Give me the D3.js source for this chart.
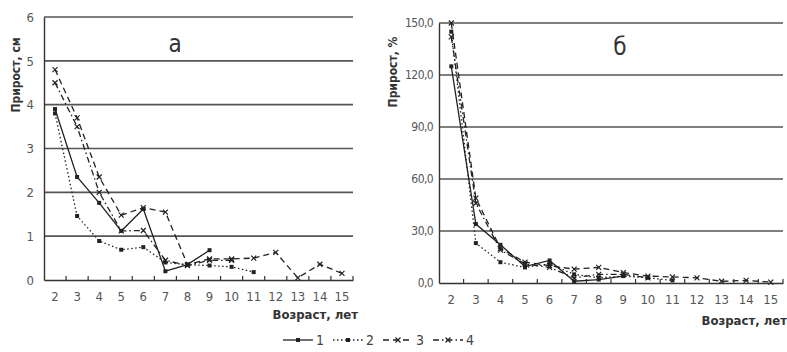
<!DOCTYPE html>
<html><head><meta charset="utf-8">
<script src="https://cdn.jsdelivr.net/npm/d3@7"></script>
<style>
body{margin:0;background:#fff;}
text{font-family:"Liberation Sans Narrow","DejaVu Sans Condensed","Roboto Condensed",sans-serif;fill:#444;}
</style></head><body>
<svg id="c" width="787" height="352"></svg>
<script>
const ages = [2,3,4,5,6,7,8,9,10,11,12,13,14,15];
// Panel а: прирост, см
const a1 = [[2,3.9],[3,2.35],[4,1.76],[5,1.12],[6,1.62],[7,0.2],[8,0.35],[9,0.68]];
const a2 = [[2,3.8],[3,1.46],[4,0.89],[5,0.69],[6,0.75],[7,0.4],[8,0.35],[9,0.33],[10,0.3],[11,0.18]];
const a3 = [[2,4.8],[3,3.7],[4,2.35],[5,1.48],[6,1.65],[7,1.55],[8,0.35],[9,0.48],[10,0.48],[11,0.5],[12,0.63],[13,0.05],[14,0.36],[15,0.15]];
const a4 = [[2,4.5],[3,3.5],[4,2.0],[5,1.12],[6,1.13],[7,0.45],[8,0.33],[9,0.45],[10,0.45]];
// Panel б: прирост, %
const b1 = [[2,125],[3,34],[4,22],[5,9.5],[6,13],[7,1],[8,2],[9,4]];
const b2 = [[2,145],[3,23],[4,12],[5,9],[6,11],[7,5],[8,3],[9,4],[10,3],[11,1.5]];
const b3 = [[2,150],[3,49],[4,20],[5,12],[6,10],[7,8],[8,9],[9,6],[10,4],[11,3.5],[12,3],[13,1],[14,1.5],[15,0.5]];
const b4 = [[2,142],[3,46],[4,19],[5,11],[6,9],[7,3],[8,5],[9,5],[10,3]];
const aTicks = [0,1,2,3,4,5,6];
const bTicks = [0,30,60,90,120,150];
const seriesNames = ["1","2","3","4"];

const svg = d3.select("#c");
const styles = [
  {dash:null, mark:"sq"},
  {dash:"1.5,2.5", mark:"sq"},
  {dash:"6,4", mark:"x"},
  {dash:"6,3,1.5,3", mark:"x"}
];

function drawMarker(g, x, y, m){
  if(m==="sq"){
    g.append("rect").attr("x",x-2).attr("y",y-2).attr("width",4).attr("height",4).attr("fill","#222");
  } else {
    g.append("path").attr("d",`M${x-2.5},${y-2.5}L${x+2.5},${y+2.5}M${x-2.5},${y+2.5}L${x+2.5},${y-2.5}`)
      .attr("stroke","#222").attr("stroke-width",1.2);
  }
}

function panel(o){
  const x = d3.scaleBand().domain(ages).range([o.x0,o.x1]);
  const y = d3.scaleLinear().domain([0,o.max]).range([o.y0,o.y1]);
  const g = svg.append("g");
  // grid
  g.selectAll(".grid").data(o.ticks.filter(t=>t>0)).enter().append("line")
    .attr("x1",o.x0).attr("x2",o.x1).attr("y1",d=>y(d)).attr("y2",d=>y(d))
    .attr("stroke","#555").attr("stroke-width",1.6);
  // y axis
  const ya = g.append("g").attr("transform",`translate(${o.x0},0)`)
    .call(d3.axisLeft(y).tickValues(o.ticks).tickSize(0).tickPadding(o.pad).tickFormat(o.fmt));
  ya.select(".domain").attr("stroke","#333").attr("stroke-width",1.4);
  ya.selectAll("text").attr("font-size",o.yfs).attr("letter-spacing",o.ls).style("fill","#555");
  // x axis
  const xa = g.append("g").attr("transform",`translate(0,${o.y0})`)
    .call(d3.axisBottom(x).tickSize(0).tickPadding(12));
  xa.select(".domain").attr("stroke","#333").attr("stroke-width",1.6);
  xa.selectAll("text").attr("font-size",13).style("fill","#555");
  // inner ticks at band boundaries
  g.selectAll(".bt").data(ages.slice(1).concat([null])).enter().append("line")
    .attr("x1",(d,i)=>o.x0+x.step()*(i+1)).attr("x2",(d,i)=>o.x0+x.step()*(i+1))
    .attr("y1",o.y0).attr("y2",o.y0-4).attr("stroke","#333").attr("stroke-width",1.2);
  // series
  const line = d3.line().x(d=>x(d[0])+x.bandwidth()/2).y(d=>y(d[1]));
  o.series.forEach((s,i)=>{
    const st = styles[i];
    g.append("path").attr("d",line(s)).attr("fill","none").attr("stroke","#222")
      .attr("stroke-width",1.3).attr("stroke-dasharray",st.dash);
    s.forEach(d=>drawMarker(g, x(d[0])+x.bandwidth()/2, y(d[1]), st.mark));
  });
  // titles
  g.append("text").attr("x",o.lx).attr("y",o.ly).attr("font-size",24).attr("text-anchor","middle").text(o.label).style("fill","#333");
  g.append("text").attr("transform",`translate(${o.ytx},${o.yty}) rotate(-90)`).attr("text-anchor","middle")
    .attr("font-size",12).attr("font-weight","bold").style("fill","#333").text(o.ytitle);
  g.append("text").attr("x",o.x1+o.xtdx).attr("y",o.y0+o.xtdy).attr("text-anchor","end")
    .attr("font-size",13).attr("font-weight","bold").style("fill","#333").text("Возраст, лет");
}

panel({x0:44,x1:353,y0:280,y1:17,max:6,ticks:aTicks,fmt:d=>d,pad:10,yfs:13,ls:0,xtdx:5,xtdy:39,
  series:[a1,a2,a3,a4],label:"а",lx:175,ly:52,ytx:20,yty:75,ytitle:"Прирост, см"});
panel({x0:439,x1:783,y0:283,y1:23,max:150,ticks:bTicks,fmt:d=>d3.format(".1f")(d).replace(".",","),pad:6,yfs:12,ls:-0.6,xtdx:4,xtdy:42,
  series:[b1,b2,b3,b4],label:"б",lx:620,ly:55,ytx:397,yty:72,ytitle:"Прирост, %"});

// legend
const lg = svg.append("g");
const lx = [283,333,383,433];
seriesNames.forEach((n,i)=>{
  const st = styles[i];
  const x0 = lx[i];
  lg.append("line").attr("x1",x0).attr("x2",x0+30).attr("y1",340).attr("y2",340)
    .attr("stroke","#222").attr("stroke-width",1.3).attr("stroke-dasharray",st.dash);
  drawMarker(lg, x0+15, 340, st.mark);
  lg.append("text").attr("x",x0+33).attr("y",345).attr("font-size",14).style("fill","#444").text(n);
});
</script>
</body></html>
